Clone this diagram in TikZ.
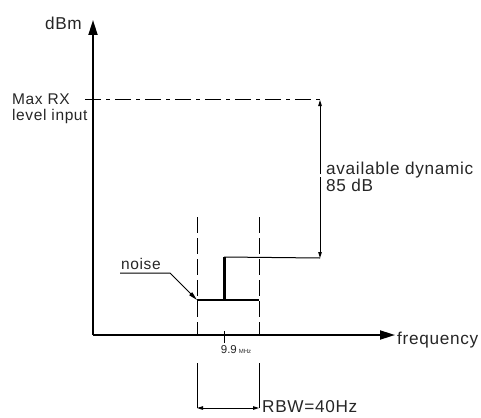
\documentclass[tikz,border=0pt]{standalone}
\usepackage{fontspec}
\setmainfont{Liberation Sans}
\newfontfamily\spacedfont[LetterSpace=4]{Liberation Sans}
\usetikzlibrary{arrows.meta}
\begin{document}
\begin{tikzpicture}[x=1pt,y=-1pt,
  lbl/.style={inner sep=0pt,font=\spacedfont\fontsize{15.5}{17}\selectfont,text=black!85},
  biglbl/.style={lbl,font=\spacedfont\fontsize{17.2}{18.5}\selectfont},
  axisline/.style={line width=1.8pt,-{Triangle[length=15pt,width=9pt]}},
  dimarrow/.style={line width=1pt,-{Triangle[length=6pt,width=3.5pt]}},
  thin/.style={line width=1pt},
  thick/.style={line width=2.6pt},
  rbwdash/.style={line width=1pt,dash pattern=on 16pt off 5pt},
  maxdash/.style={line width=1pt,dash pattern=on 16pt off 5pt on 4pt off 5pt}]
\useasboundingbox (0,0) rectangle (481,417);
% coordinates
\coordinate (O) at (93,335);
\coordinate (ytop) at (93,20);
\coordinate (xend) at (395,335);
\coordinate (maxL) at (85,100);
\coordinate (maxR) at (320,100);
\coordinate (dimmidA) at (320,174);
\coordinate (dimmidB) at (320,177);
\coordinate (dimbot) at (320,258);
\coordinate (sigtop) at (224,257);
\coordinate (sigbot) at (224,300);
\coordinate (nfL) at (197,300);
\coordinate (nfR) at (259,300);
\coordinate (dlTop) at (197,217);
\coordinate (dlBot) at (197,335);
\coordinate (drTop) at (259,217);
\coordinate (drBot) at (259,335);
\coordinate (blTop) at (197,363);
\coordinate (blBot) at (197,408);
\coordinate (brTop) at (259,363);
\coordinate (brBot) at (259,408);
\coordinate (tickT) at (224,331);
\coordinate (tickB) at (224,343);
\coordinate (nzA) at (120,273);
\coordinate (nzB) at (170,273);
% labels
\node[biglbl,anchor=east] (dbm) at (82,23) {dBm};
\node[biglbl,anchor=west] (freq) at (397,340) {frequency};
\node[lbl,anchor=west,align=left] (maxrx) at (12,109) {Max RX\\[-1pt]level input};
\node[biglbl,anchor=west,align=left] (avail) at (326,177) {available dynamic\\[-2pt]85 dB};
\node[lbl,anchor=south west] (noise) at (121,270) {noise};
\node[biglbl,anchor=west] (rbw) at (262,407) {RBW=40Hz};
\node[inner sep=0pt,anchor=north,text=black!85] (f0) at (236,345) {\fontsize{11.5}{12}\selectfont 9.9\,\fontsize{6}{6}\selectfont MHz};
% axes
\draw[axisline] (O) -- (ytop);
\draw[axisline] (O) -- (xend);
\draw[line width=1pt] (tickT) -- (tickB);
% max RX level
\draw[maxdash] (maxL) -- (maxR);
% dynamic range
\draw[dimarrow] (dimmidA) -- (maxR);
\draw[dimarrow] (dimmidB) -- (dimbot);
\draw[thin] (sigtop) -- (dimbot);
% RBW window
\draw[rbwdash] (dlTop) -- (dlBot);
\draw[rbwdash] (drTop) -- (drBot);
\draw[thin] (blTop) -- (blBot);
\draw[thin] (brTop) -- (brBot);
\draw[line width=1pt,{Triangle[length=6pt,width=3.5pt]}-{Triangle[length=6pt,width=3.5pt]}] (blBot) -- (brBot);
% noise and signal
\draw[thick] (nfL) -- (nfR);
\draw[thick,line width=3pt] (sigtop) -- (sigbot);
\draw[thin,-{Triangle[length=9pt,width=4pt]}] (nzA) -- (nzB) -- (nfL);
\end{tikzpicture}
\end{document}
